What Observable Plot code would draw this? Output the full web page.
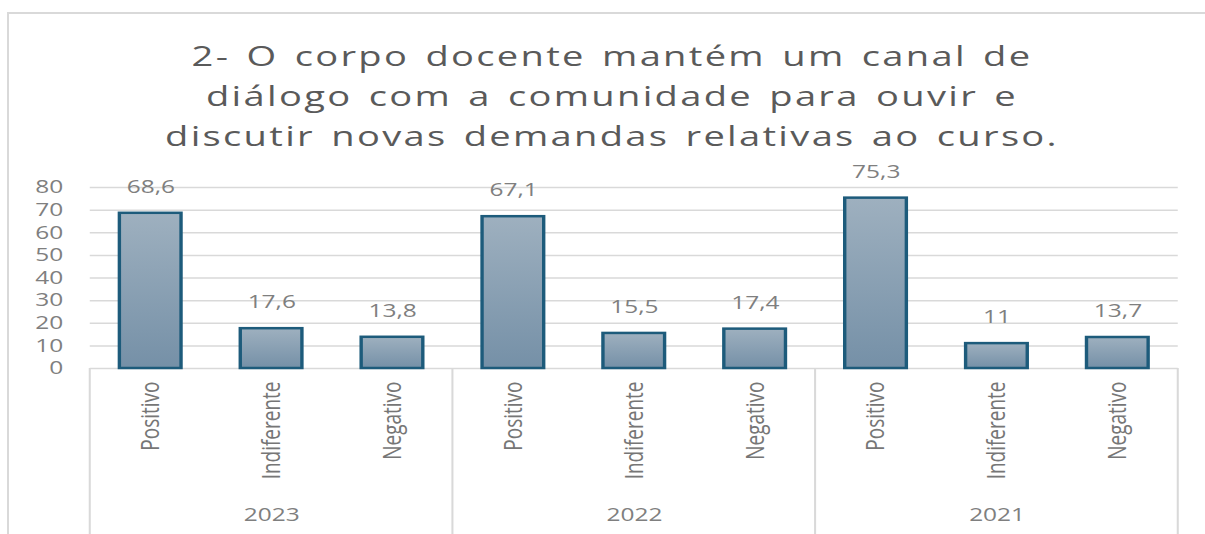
<!DOCTYPE html>
<html>
<head>
<meta charset="utf-8">
<script src="https://cdn.jsdelivr.net/npm/d3@7"></script>
<script src="https://cdn.jsdelivr.net/npm/@observablehq/plot@0.6"></script>
<style>
  html, body { margin: 0; padding: 0; background: #fff; }
  #page { position: relative; width: 1205px; height: 534px; overflow: hidden; background: #fff; }
  #frame { position: absolute; left: 7px; top: 12px; width: 1300px; height: 600px;
           border-left: 2px solid #d9d9d9; border-top: 2px solid #d9d9d9; }
  #stretch { position: absolute; left: 0; top: 0; width: 886px; height: 534px;
             transform: scaleX(1.36); transform-origin: 0 0; }
  #title { position: absolute; left: 0; top: 35px; width: 900px; text-align: center;
           font-family: "Open Sans", sans-serif; font-size: 28px; line-height: 40px;
           color: #5a5a5a; letter-spacing: 1.7px; word-spacing: 3px; }
  #chart { position: absolute; left: 0; top: 160px; }
</style>
</head>
<body>
<div id="page">
  <div id="frame"></div>
  <div id="stretch">
    <div id="title">2- O corpo docente mantém um canal de<br>diálogo com a comunidade para ouvir e<br>discutir novas demandas relativas ao curso.</div>
    <div id="chart"></div>
  </div>
</div>
<script>
const years = ["2023", "2022", "2021"];
const categories = ["Positivo", "Indiferente", "Negativo"];
const values2023 = [68.6, 17.6, 13.8];
const values2022 = [67.1, 15.5, 17.4];
const values2021 = [75.3, 11, 13.7];
const yTicks = [0, 10, 20, 30, 40, 50, 60, 70, 80];

const seriesByYear = {"2023": values2023, "2022": values2022, "2021": values2021};
const data = [];
for (const yr of years) {
  categories.forEach((c, i) => data.push({year: yr, cat: c, key: yr + "|" + c, value: seriesByYear[yr][i]}));
}
const keys = data.map(d => d.key);
const yearRows = years.map(yr => ({year: yr, key: yr + "|" + categories[1]}));

const padInner = 0.49;
const W = 886;

const separators = (index, scales, values, dimensions) => {
  const x = scales.x, y = scales.y;
  const step = x(keys[1]) - x(keys[0]);
  const bw = step * (1 - padInner);
  const gap = (step - bw) / 2;
  const xs = years.map(yr => x(yr + "|" + categories[0]) - gap);
  xs.push(x(years[years.length - 1] + "|" + categories[categories.length - 1]) + bw + gap);
  const g = d3.create("svg:g");
  g.selectAll("line").data(xs).join("line")
    .attr("x1", d => d).attr("x2", d => d)
    .attr("y1", y(0)).attr("y2", dimensions.height)
    .attr("stroke", "#d9d9d9").attr("stroke-width", 1.5);
  return g.node();
};

const chart = Plot.plot({
  width: W,
  height: 374,
  marginLeft: 66,
  marginRight: 20,
  marginTop: 27,
  marginBottom: 166,
  style: {fontFamily: "Open Sans, sans-serif", background: "transparent", overflow: "visible"},
  x: {domain: keys, paddingInner: padInner, paddingOuter: padInner / 2, round: false},
  y: {domain: [0, 80]},
  marks: [
    Plot.gridY(yTicks.slice(1), {stroke: "#d9d9d9", strokeOpacity: 1, strokeWidth: 1.5}),
    Plot.axisY(yTicks, {tickSize: 0, tickPadding: 20, fontSize: 18, fill: "#7f7f7f", label: null}),
    Plot.ruleY([0], {stroke: "#d9d9d9", strokeWidth: 1.5}),
    separators,
    Plot.barY(data, {x: "key", y: "value", fill: "url(#barGrad)", stroke: "#1d5b7b", strokeWidth: 2.5}),
    Plot.text(data, {x: "key", y: "value", text: d => String(d.value).replace(".", ","),
      dy: -26, fontSize: 18, fill: "#7f7f7f", lineAnchor: "middle"}),
    Plot.axisX({tickRotate: -90, tickSize: 0, tickPadding: 13, fontSize: 19, fill: "#767676",
      tickFormat: k => k.split("|")[1], label: null}),
    Plot.text(yearRows, {x: "key", frameAnchor: "bottom", text: "year", dy: 147,
      fontSize: 18, fill: "#7f7f7f", lineAnchor: "middle"})
  ]
});

const svg = d3.select(chart);
const defs = svg.insert("defs", ":first-child");
const grad = defs.append("linearGradient").attr("id", "barGrad")
  .attr("x1", 0).attr("y1", 0).attr("x2", 0).attr("y2", 1);
grad.append("stop").attr("offset", "0%").attr("stop-color", "#9eb0bf");
grad.append("stop").attr("offset", "100%").attr("stop-color", "#7590a7");

document.getElementById("chart").appendChild(chart);
</script>
</body>
</html>
